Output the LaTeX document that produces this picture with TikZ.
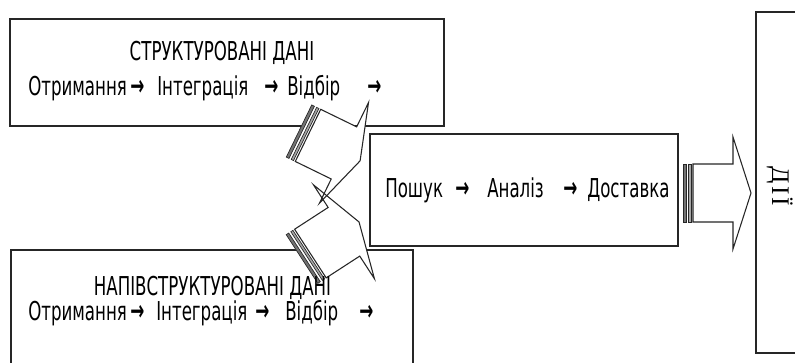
\documentclass[tikz,border=0pt]{standalone}
\usepackage{fontspec}
\setmainfont[FakeStretch=0.64]{DejaVu Sans}
\newfontfamily\arrfont[FakeStretch=0.6]{DejaVu Sans}
\newfontfamily\serifcyr[LetterSpace=10]{Liberation Serif}
\usetikzlibrary{fit}
\tikzset{
  frame/.style={draw=black!85, line width=0.9pt, inner sep=0pt, fill=white},
  lbl/.style={inner sep=0pt, font=\fontsize{19.5}{22}\selectfont, text=black},
  arr/.style={inner sep=0pt, font=\arrfont\bfseries\fontsize{21}{24}\selectfont, text=black},
  arrowline/.style={draw=black!85, line width=0.8pt, line join=miter},
  stripe/.style={draw=black!85, fill=black!55, line width=0.5pt}
}
\newcommand\arrowbodypath{(10,-29) -- (50,-29) -- (50,-56) -- (68,0) -- (50,56) -- (50,29) -- (10,29) -- cycle}
\newcommand\arrowfill[2]{%
  \begin{scope}[shift={(#1)},rotate=#2]
    \fill[white] (0,-29) -- \arrowbodypath;
    \fill[white] (0,-29) rectangle (10,29);
  \end{scope}}
\newcommand\arrowdraw[2]{%
  \begin{scope}[shift={(#1)},rotate=#2]
    \draw[arrowline] \arrowbodypath;
    \draw[stripe] (0,-29) rectangle (3,29);
    \draw[stripe, fill=black!35] (5.5,-29) rectangle (8,29);
  \end{scope}}
\begin{document}
\begin{tikzpicture}[x=0.75pt,y=-0.75pt]
\useasboundingbox (0,0) rectangle (795,362);
\clip (0,0) rectangle (795,362);
% boxes
\node[frame, fit={(10,19) (444,126)}] (sbox) {};
\node[frame, fit={(11,250) (413,390)}] (hbox) {};
\node[frame, fit={(370,134) (678,246)}] (mbox) {};
\node[frame, fit={(756,12) (840,353)}] (abox) {};
% block arrows
\arrowfill{302,259}{33}
\arrowfill{299,131}{-26}
\arrowfill{683,193}{0}
\arrowdraw{302,259}{33}
\arrowdraw{299,131}{-26}
\arrowdraw{683,193}{0}
% texts top box
\node[lbl, anchor=base] (st) at (222,60) {СТРУКТУРОВАНІ ДАНІ};
\node[lbl, anchor=base west] (s1) at (28,95) {Отримання};
\node[arr, anchor=base west] (sa1) at (130,95) {→};
\node[lbl, anchor=base west] (s2) at (157,95) {Інтеграція};
\node[arr, anchor=base west] (sa2) at (264,95) {→};
\node[lbl, anchor=base west] (s3) at (287,95) {Відбір};
\node[arr, anchor=base west] (sa3) at (367,95) {→};
% texts bottom box
\node[lbl, anchor=base] (ht) at (212.5,295) {НАПІВСТРУКТУРОВАНІ ДАНІ};
\node[lbl, anchor=base west] (h1) at (28,320) {Отримання};
\node[arr, anchor=base west] (ha1) at (130,320) {→};
\node[lbl, anchor=base west] (h2) at (156,320) {Інтеграція};
\node[arr, anchor=base west] (ha2) at (255,320) {→};
\node[lbl, anchor=base west] (h3) at (285,320) {Відбір};
\node[arr, anchor=base west] (ha3) at (359,320) {→};
% texts middle box
\node[lbl, anchor=base west] (m1) at (385,197) {Пошук};
\node[arr, anchor=base west] (ma1) at (455,197) {→};
\node[lbl, anchor=base west] (m2) at (487,197) {Аналіз};
\node[arr, anchor=base west] (ma2) at (563,197) {→};
\node[lbl, anchor=base west] (m3) at (587,197) {Доставка};
% right box text
\node[inner sep=0pt, rotate=-90, anchor=base, font=\serifcyr\fontsize{19}{22}\selectfont] (dii) at (772,186) {ДІЇ};
\end{tikzpicture}
\end{document}
